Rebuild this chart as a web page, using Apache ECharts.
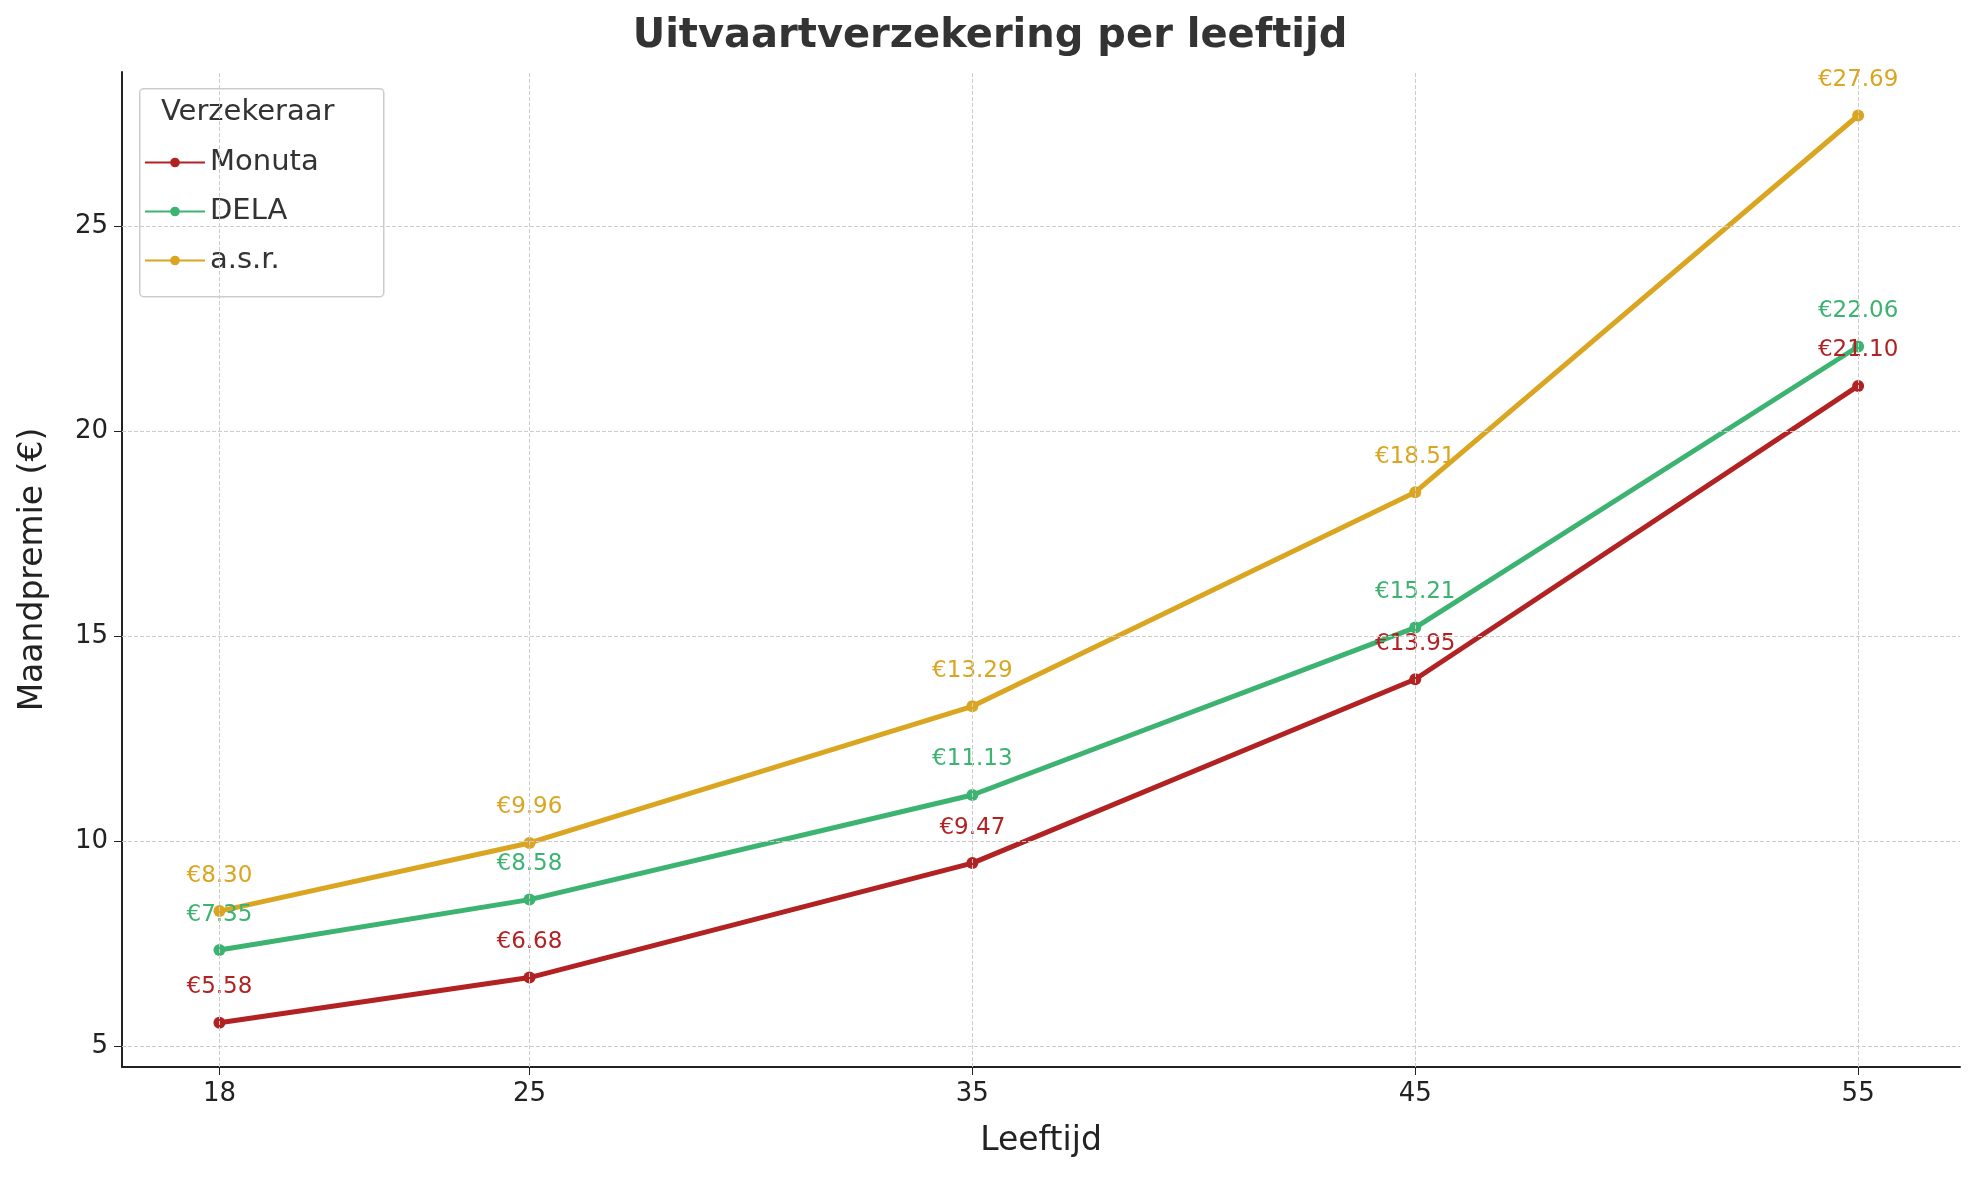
<!DOCTYPE html>
<html>
<head>
<meta charset="utf-8">
<script src="https://cdn.jsdelivr.net/npm/echarts@6/dist/echarts.min.js"></script>
<style>html,body{margin:0;padding:0;background:#fff}#chart{width:1980px;height:1180px}</style>
</head>
<body>
<div id="chart"></div>
<script>
// 数据
var ages = [18, 25, 35, 45, 55];
var monuta = [5.58, 6.68, 9.47, 13.95, 21.10];
var dela = [7.35, 8.58, 11.13, 15.21, 22.06];
var asr = [8.30, 9.96, 13.29, 18.51, 27.69];
var yTicks = [5, 10, 15, 20, 25];
var names = ['Monuta', 'DELA', 'a.s.r.'];
var colors = ['#b22222', '#3cb371', '#daa520'];

var myChart = echarts.init(document.getElementById('chart'));
var font = 'DejaVu Sans';

function makeSeries(name, vals, color) {
    return {
        name: name,
        type: 'line',
        data: ages.map(function (a, i) { return [a, vals[i]]; }),
        symbol: 'circle',
        symbolSize: 12,
        lineStyle: { width: 5, color: color },
        itemStyle: { color: color },
        label: {
            show: true,
            position: 'top',
            distance: 18,
            color: color,
            fontSize: 23,
            fontFamily: font,
            formatter: function (p) { return '€' + p.value[1].toFixed(2); }
        },
        z: 3
    };
}

var gridLine = { color: '#cccccc', type: 'dashed', width: 1 };

var option = {
    backgroundColor: '#fff',
    animation: false,
    title: {
        text: 'Uitvaartverzekering per leeftijd',
        left: 'center', top: 12,
        textStyle: { fontSize: 40, fontWeight: 'bold', color: '#333', fontFamily: font }
    },
    legend: {
        orient: 'vertical',
        left: 139, top: 143,
        data: names,
        itemWidth: 60, itemHeight: 12, itemGap: 20,
        textStyle: { fontSize: 29, color: '#333', fontFamily: font }
    },
    graphic: [
        { type: 'rect', left: 139, top: 88, shape: { width: 244, height: 208, r: 4 },
          style: { fill: '#fff', stroke: '#cccccc', lineWidth: 1.5 }, z: 1 },
        { type: 'text', left: 161, top: 98, z: 2,
          style: { text: 'Verzekeraar', fontSize: 29, fill: '#333', fontFamily: font } }
    ],
    grid: { left: 122, right: 20, top: 72, bottom: 113 },
    xAxis: {
        type: 'value', min: 15.8, max: 57.3,
        name: 'Leeftijd', nameLocation: 'middle', nameGap: 58,
        nameTextStyle: { fontSize: 33, color: '#222', fontFamily: font },
        axisLine: { lineStyle: { color: '#222', width: 2 } },
        axisTick: { customValues: ages, length: 8, lineStyle: { color: '#222' } },
        axisLabel: { customValues: ages, fontSize: 26, color: '#222', margin: 14, fontFamily: font },
        splitLine: { show: false }
    },
    yAxis: {
        type: 'value', min: 4.5, max: 28.75,
        name: 'Maandpremie (€)', nameLocation: 'middle', nameGap: 72,
        nameTextStyle: { fontSize: 33, color: '#222', fontFamily: font },
        axisLine: { show: true, lineStyle: { color: '#222', width: 2 } },
        axisTick: { show: true, customValues: yTicks, length: 8, lineStyle: { color: '#222' } },
        axisLabel: { customValues: yTicks, fontSize: 26, color: '#222', margin: 14, fontFamily: font },
        splitLine: { show: false }
    },
    series: [
        {
            type: 'line', data: [], silent: true,
            markLine: {
                silent: true, symbol: 'none', label: { show: false },
                lineStyle: gridLine,
                data: ages.map(function (a) { return { xAxis: a }; })
                    .concat(yTicks.map(function (v) { return { yAxis: v }; }))
            },
            z: 1
        },
        makeSeries(names[0], monuta, colors[0]),
        makeSeries(names[1], dela, colors[1]),
        makeSeries(names[2], asr, colors[2])
    ]
};
myChart.setOption(option);
</script>
</body>
</html>
